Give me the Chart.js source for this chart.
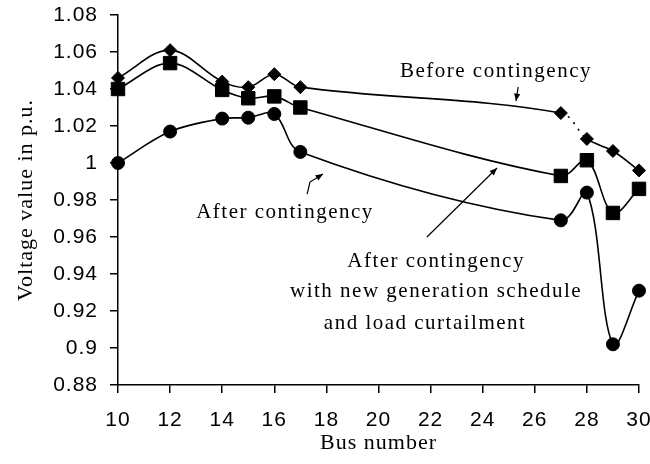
<!DOCTYPE html>
<html>
<head>
<meta charset="utf-8">
<script src="https://cdn.jsdelivr.net/npm/chart.js@4.4.1/dist/chart.umd.min.js"></script>
<style>
  body { margin: 0; background: #fff; }
  canvas { display: block; }
</style>
</head>
<body>
<canvas id="voltage-chart" width="650" height="464"></canvas>
<script>
// Bus numbers on the x axis
const buses = [10, 12, 14, 15, 16, 17, 27, 28, 29, 30];

// Voltage values (p.u.)
const beforeContingency = [1.046, 1.061, 1.044, 1.041, 1.048, 1.041, 1.027, 1.013, 1.0065, 0.996];
const afterNewSchedule = [1.040, 1.054, 1.0395, 1.035, 1.036, 1.030, 0.993, 1.0015, 0.973, 0.986];
const afterContingency = [1.000, 1.017, 1.024, 1.0245, 1.0265, 1.006, 0.969, 0.984, 0.902, 0.931];

// Axis ticks
const xTicks = [10, 12, 14, 16, 18, 20, 22, 24, 26, 28, 30];
const yTicks = [0.88, 0.9, 0.92, 0.94, 0.96, 0.98, 1, 1.02, 1.04, 1.06, 1.08];

// Text annotations placed in data units
const notes = [
    { text: 'Before contingency', x: 24.51, y: 1.0492 },
    { text: 'After contingency', x: 16.41, y: 0.973 },
    { text: 'After contingency', x: 22.21, y: 0.9465 },
    { text: 'with new generation schedule', x: 22.21, y: 0.9308 },
    { text: 'and load curtailment', x: 21.79, y: 0.9135 }
];
// Arrows: list of points, head at the last one
const arrows = [
    [[25.36, 1.0411], [25.28, 1.0335]],
    [[17.26, 0.9832], [17.37, 0.9897], [17.87, 0.9940]],
    [[21.86, 0.960], [24.55, 0.9973]]
];

const toPoints = vals => buses.map((b, i) => ({ x: b, y: vals[i] }));

const serif = "'Liberation Serif', 'Times New Roman', serif";
const sans = "'Liberation Sans Narrow', 'Liberation Sans', Arial, sans-serif";

const annotate = {
    id: 'annotate',
    beforeDraw(chart) {
        chart.ctx.letterSpacing = '1px';
    },
    afterDraw(chart) {
        const ctx = chart.ctx;
        const xs = chart.scales.x, ys = chart.scales.y;
        ctx.save();
        ctx.letterSpacing = '1.5px';
        ctx.fillStyle = '#000';
        ctx.font = '21px ' + serif;
        ctx.textAlign = 'center';
        ctx.textBaseline = 'middle';
        notes.forEach(n => {
            ctx.fillText(n.text, xs.getPixelForValue(n.x), ys.getPixelForValue(n.y));
        });
        ctx.strokeStyle = '#000';
        ctx.lineWidth = 1.2;
        arrows.forEach(a => {
            const pts = a.map(p => [xs.getPixelForValue(p[0]), ys.getPixelForValue(p[1])]);
            ctx.beginPath();
            ctx.moveTo(pts[0][0], pts[0][1]);
            for (let i = 1; i < pts.length; i++) ctx.lineTo(pts[i][0], pts[i][1]);
            ctx.stroke();
            const [x1, y1] = pts[pts.length - 2];
            const [x2, y2] = pts[pts.length - 1];
            const ang = Math.atan2(y2 - y1, x2 - x1);
            ctx.beginPath();
            ctx.moveTo(x2, y2);
            ctx.lineTo(x2 - 8 * Math.cos(ang - 0.4), y2 - 8 * Math.sin(ang - 0.4));
            ctx.lineTo(x2 - 8 * Math.cos(ang + 0.4), y2 - 8 * Math.sin(ang + 0.4));
            ctx.closePath();
            ctx.fill();
        });
        ctx.restore();
    }
};

const lineStyle = {
    borderColor: '#000',
    backgroundColor: '#000',
    pointBackgroundColor: '#000',
    pointBorderColor: '#000',
    borderWidth: 1.6,
    pointBorderWidth: 1,
    tension: 0.35,
    fill: false
};

const ctx = document.getElementById('voltage-chart').getContext('2d');
const chart = new Chart(ctx, {
    type: 'line',
    data: {
        datasets: [
            Object.assign({
                label: 'After contingency',
                data: toPoints(afterContingency),
                pointStyle: 'circle',
                pointRadius: 6.5
            }, lineStyle),
            Object.assign({
                label: 'After contingency with new generation schedule and load curtailment',
                data: toPoints(afterNewSchedule),
                pointStyle: 'rect',
                pointRadius: 9.5
            }, lineStyle),
            Object.assign({
                label: 'Before contingency',
                data: toPoints(beforeContingency),
                pointStyle: 'rectRot',
                pointRadius: 6.5,
                segment: {
                    borderDash: c => c.p0DataIndex === 6 ? [2, 6] : undefined
                }
            }, lineStyle)
        ]
    },
    options: {
        responsive: false,
        animation: false,
        clip: false,
        layout: { padding: { top: 15, right: 11, left: 0, bottom: 0 } },
        plugins: {
            legend: { display: false },
            tooltip: { enabled: false }
        },
        scales: {
            x: {
                type: 'linear',
                min: 10,
                max: 30,
                afterFit: s => { s.height = 79; s.paddingLeft = 0; s.paddingRight = 0; },
                afterBuildTicks: s => { s.ticks = xTicks.map(v => ({ value: v })); },
                grid: { drawOnChartArea: false, color: '#000', tickLength: 8, lineWidth: 1.5 },
                border: { color: '#000', width: 1.5 },
                ticks: { color: '#000', font: { family: sans, size: 21 }, padding: 15, maxRotation: 0 },
                title: {
                    display: true,
                    text: 'Bus number',
                    color: '#000',
                    font: { family: serif, size: 22 },
                    padding: { top: 0, bottom: 8 }
                }
            },
            y: {
                min: 0.88,
                max: 1.08,
                afterFit: s => { s.width = 118; s.paddingTop = 0; s.paddingBottom = 0; },
                afterBuildTicks: s => { s.ticks = yTicks.map(v => ({ value: v })); },
                grid: { drawOnChartArea: false, color: '#000', tickLength: 8, lineWidth: 1.5 },
                border: { color: '#000', width: 1.5 },
                ticks: {
                    color: '#000',
                    font: { family: sans, size: 21 },
                    padding: 12,
                    callback: v => String(+v.toFixed(2))
                },
                title: {
                    display: true,
                    text: 'Voltage value in p.u.',
                    color: '#000',
                    font: { family: serif, size: 22 },
                    padding: { top: 13, bottom: 0 }
                }
            }
        }
    },
    plugins: [annotate]
});
</script>
</body>
</html>
